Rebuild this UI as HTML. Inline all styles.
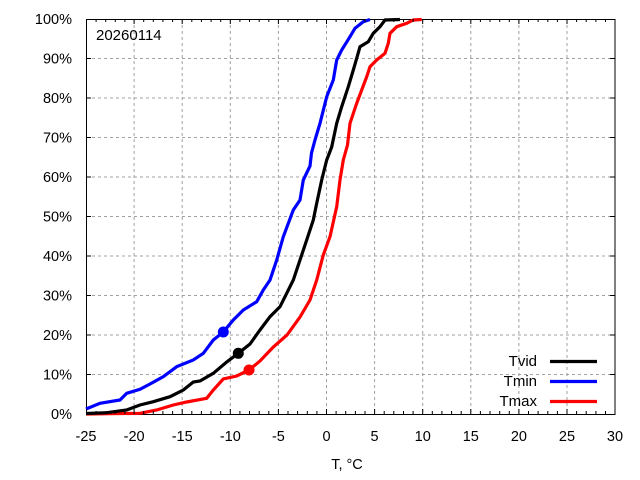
<!DOCTYPE html>
<html><head><meta charset="utf-8"><style>
html,body{margin:0;padding:0;background:#fff;}
svg{display:block;}
text{font-family:"Liberation Sans",Arial,sans-serif;fill:#000;}
</style></head><body>
<svg width="640" height="480" viewBox="0 0 640 480" xmlns="http://www.w3.org/2000/svg">
<rect width="640" height="480" fill="#fff"/>
<g stroke="#a0a0a0" stroke-width="1" stroke-dasharray="3,3" fill="none">
<path d="M134.1 19V414M182.2 19V414M230.3 19V414M278.4 19V414M326.5 19V414M374.6 19V414M422.7 19V414M470.8 19V414M518.9 19V414M567 19V414"/>
<path d="M86 374.5H615M86 335H615M86 295.5H615M86 256H615M86 216.5H615M86 177H615M86 137.5H615M86 98H615M86 58.5H615"/>
</g>
<rect x="86.5" y="19.5" width="528.5" height="395" fill="none" stroke="#000" stroke-width="1"/>
<g font-size="14.5" text-anchor="end">
<text x="72" y="419">0%</text>
<text x="72" y="379.5">10%</text>
<text x="72" y="340">20%</text>
<text x="72" y="300.5">30%</text>
<text x="72" y="261">40%</text>
<text x="72" y="221.5">50%</text>
<text x="72" y="182">60%</text>
<text x="72" y="142.5">70%</text>
<text x="72" y="103">80%</text>
<text x="72" y="63.5">90%</text>
<text x="72" y="24">100%</text>
</g>
<g font-size="14.5" text-anchor="middle">
<text x="86" y="441">-25</text>
<text x="134.1" y="441">-20</text>
<text x="182.2" y="441">-15</text>
<text x="230.3" y="441">-10</text>
<text x="278.4" y="441">-5</text>
<text x="326.5" y="441">0</text>
<text x="374.6" y="441">5</text>
<text x="422.7" y="441">10</text>
<text x="470.8" y="441">15</text>
<text x="518.9" y="441">20</text>
<text x="567" y="441">25</text>
<text x="615" y="441">30</text>
<text x="347" y="469">T, °C</text>
</g>
<text x="96" y="40" font-size="15">20260114</text>
<g fill="none" stroke-width="3.2" stroke-linejoin="miter">
<polyline stroke="#0000ff" points="86,409 100,403.3 120,400 126.7,393.3 140,389.3 150,384 163.3,376.7 176.7,366.7 193.3,360 203.3,353.3 213.3,340 223.3,332 233.3,320 243.3,310 256.7,301.7 263.3,290 270,280 276.7,260 283.3,236.7 293.3,210 300,200 303.3,180 310,166 311.5,153 315,140 320,123.3 326.7,96.7 333.3,80 336.7,60 341.7,50 350,36.7 355,28.3 363.3,21.7 370,19.5"/>
<polyline stroke="#ff0000" points="86,414 140,413.3 156.7,410 173.3,405 186.7,402 206.7,398.3 213.3,390 223.3,379 236.7,376 249,370 260,361 273.3,347 287,335 300,317 310,300 316.7,280 323.3,255 330,236.7 336.7,206.7 340,180 343.3,160 347.5,145 350,123.3 356.7,103.3 366.7,76.7 370,66.7 376.7,60 385,53.3 388.3,43.3 390,33.3 396.7,26.7 406.7,23.3 413.3,20 421.7,19.5"/>
<polyline stroke="#000" points="86,413.5 106.7,412.7 126.7,410 140,405 153.3,401.7 170,396.7 183.3,390 193.3,382 200,381 213.3,373.3 226.7,362 238.3,353.3 250,344 260,330 270,316.7 280,306.7 286.7,293.3 293.3,280 300,260 306.7,240 313.3,220 316.7,203.3 321.7,180 326.7,160 331.7,147 336.7,123.3 341.7,106.7 348.3,86.7 353.3,70 356.7,58.3 360,46.7 368.3,41.7 373.3,33.3 380,26.7 385,20 400,19.5"/>
</g>
<circle cx="223.3" cy="332" r="5.5" fill="#0000ff"/>
<circle cx="238.3" cy="353.3" r="5.5" fill="#000"/>
<circle cx="249" cy="370" r="5.5" fill="#ff0000"/>
<g font-size="15" text-anchor="end">
<text x="537" y="366">Tvid</text>
<text x="537" y="386">Tmin</text>
<text x="537" y="406">Tmax</text>
</g>
<g stroke-width="3.2">
<line x1="550" y1="361.5" x2="597" y2="361.5" stroke="#000"/>
<line x1="550" y1="381.5" x2="597" y2="381.5" stroke="#0000ff"/>
<line x1="550" y1="401.5" x2="597" y2="401.5" stroke="#ff0000"/>
</g>
<g stroke="#000" stroke-width="1">
<path d="M86.5 414V409M86.5 19V24M134.1 414V409M134.1 19V24M182.2 414V409M182.2 19V24M230.3 414V409M230.3 19V24M278.4 414V409M278.4 19V24M326.5 414V409M326.5 19V24M374.6 414V409M374.6 19V24M422.7 414V409M422.7 19V24M470.8 414V409M470.8 19V24M518.9 414V409M518.9 19V24M567 414V409M567 19V24"/>
<path d="M86 374.5H91M615 374.5H610M86 335H91M615 335H610M86 295.5H91M615 295.5H610M86 256H91M615 256H610M86 216.5H91M615 216.5H610M86 177H91M615 177H610M86 137.5H91M615 137.5H610M86 98H91M615 98H610M86 58.5H91M615 58.5H610"/>
<path d="M96.1 414V411M105.7 414V411M115.3 414V411M124.9 414V411M143.7 414V411M153.3 414V411M162.9 414V411M172.6 414V411M191.8 414V411M201.4 414V411M211.1 414V411M220.7 414V411M239.9 414V411M249.5 414V411M259.2 414V411M268.8 414V411M288 414V411M297.6 414V411M307.3 414V411M316.9 414V411M336.1 414V411M345.7 414V411M355.4 414V411M365 414V411M384.2 414V411M393.8 414V411M403.5 414V411M413.1 414V411M432.3 414V411M441.9 414V411M451.6 414V411M461.2 414V411M480.4 414V411M490 414V411M499.7 414V411M509.3 414V411M528.5 414V411M538.1 414V411M547.8 414V411M557.4 414V411M576.6 414V411M586.2 414V411M595.9 414V411M605.5 414V411"/>
<path d="M96.1 19V22M105.7 19V22M115.3 19V22M124.9 19V22M143.7 19V22M153.3 19V22M162.9 19V22M172.6 19V22M191.8 19V22M201.4 19V22M211.1 19V22M220.7 19V22M239.9 19V22M249.5 19V22M259.2 19V22M268.8 19V22M288 19V22M297.6 19V22M307.3 19V22M316.9 19V22M336.1 19V22M345.7 19V22M355.4 19V22M365 19V22M384.2 19V22M393.8 19V22M403.5 19V22M413.1 19V22M432.3 19V22M441.9 19V22M451.6 19V22M461.2 19V22M480.4 19V22M490 19V22M499.7 19V22M509.3 19V22M528.5 19V22M538.1 19V22M547.8 19V22M557.4 19V22M576.6 19V22M586.2 19V22M595.9 19V22M605.5 19V22"/>
</g>
</svg>
</body></html>
